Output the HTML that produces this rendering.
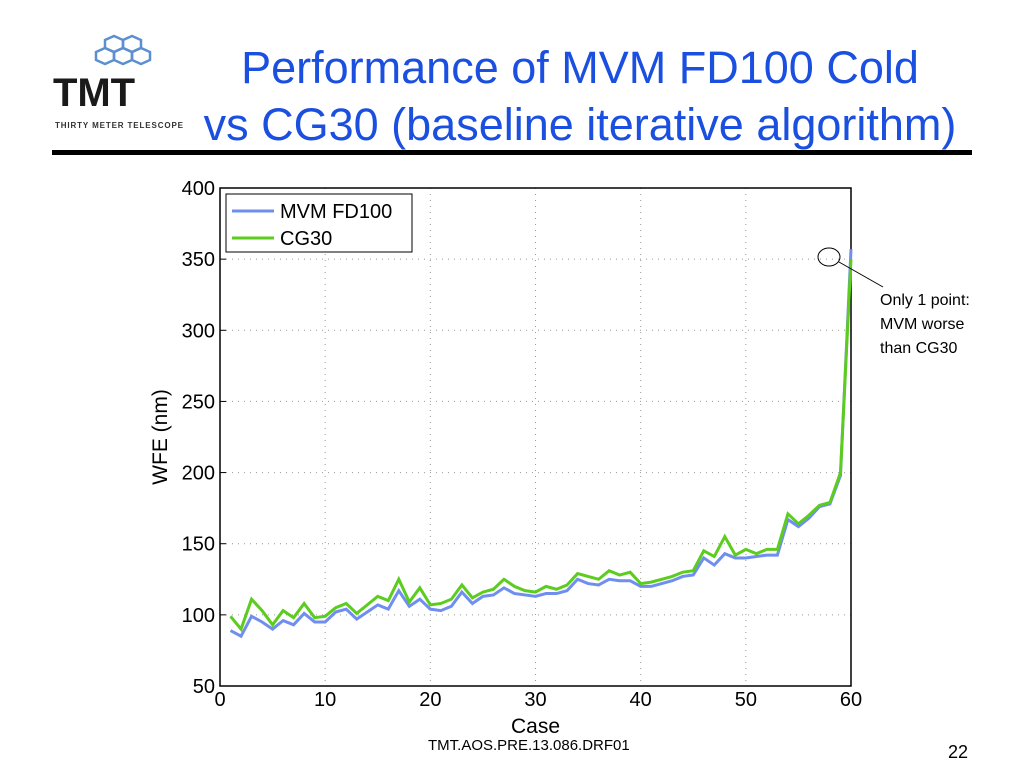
<!DOCTYPE html>
<html><head><meta charset="utf-8"><style>
body{margin:0;width:1024px;height:768px;background:#fff;position:relative;overflow:hidden;font-family:"Liberation Sans",sans-serif}
.t{position:absolute;left:160px;width:840px;text-align:center;color:#1a4fe0;font-size:45px;line-height:52px;white-space:nowrap}
</style></head><body>
<div style="position:absolute;left:25px;top:30px;width:170px;height:110px">
<svg width="170" height="110"><g fill="none" stroke="#5b8fd0" stroke-width="2.5">
<polygon points="80,10 89,6 98,10 98,18 89,22 80,18"/><polygon points="98,10 107,6 116,10 116,18 107,22 98,18"/>
<polygon points="89,22 98,18 107,22 107,30 98,34 89,30"/><polygon points="107,22 116,18 125,22 125,30 116,34 107,30"/>
<polygon points="71,22 80,18 89,22 89,30 80,34 71,30"/></g>
<text x="28" y="76" font-size="40" font-weight="bold" fill="#1a1a1a" font-family="Liberation Sans" textLength="82">TMT</text>
<text x="30" y="98" font-size="8" font-weight="bold" fill="#333" font-family="Liberation Sans" textLength="128">THIRTY METER TELESCOPE</text></svg></div>
<div class="t" style="top:42px">Performance of MVM FD100 Cold</div>
<div class="t" style="top:99px">vs CG30 (baseline iterative algorithm)</div>
<div style="position:absolute;left:52px;top:150px;width:920px;height:5px;background:#000"></div>
<svg id="c" width="1024" height="768" style="position:absolute;left:0;top:0"></svg>
<div style="position:absolute;left:880px;top:289px;font-size:16px;line-height:24px">Only 1 point:<br>MVM worse<br>than CG30</div>
<div style="position:absolute;left:428px;top:737px;font-size:15px">TMT.AOS.PRE.13.086.DRF01</div>
<div style="position:absolute;left:948px;top:742px;font-size:18px">22</div>
<script>
const xTicks=[0,10,20,30,40,50,60];
const yTicks=[50,100,150,200,250,300,350,400];
const mvm=[89,85,99,95,90,96,93,101,95,95,102,104,97,102,107,104,117,106,111,104,103,106,116,108,113,114,119,115,114,113,115,115,117,125,122,121,125,124,124,120,120,122,124,127,128,140,135,143,140,140,141,142,142,167,162,168,176,178,198,357];
const cg=[99,90,111,103,93,103,98,108,98,99,105,108,101,107,113,110,125,109,119,107,108,111,121,112,116,118,125,120,117,116,120,118,121,129,127,125,131,128,130,122,123,125,127,130,131,145,141,155,142,146,143,146,146,171,164,170,177,179,200,350];
const L=220,R=851,T=188,B=686;
const X=v=>L+(v-0)/60*(R-L), Y=v=>B-(v-50)/350*(B-T);
const s=document.getElementById('c'),NS='http://www.w3.org/2000/svg';
function mk(t,a,p){const e=document.createElementNS(NS,t);for(const k in a)e.setAttribute(k,a[k]);(p||s).appendChild(e);return e;}
let e;
xTicks.forEach(v=>{e=mk('line',{x1:X(v),x2:X(v),y1:T,y2:B,stroke:'#999','stroke-dasharray':'1 5'});

e=mk('text',{x:X(v),y:B+20,'text-anchor':'middle','font-size':20});e.textContent=v;
});
yTicks.forEach(v=>{e=mk('line',{x1:L,x2:R,y1:Y(v),y2:Y(v),stroke:'#999','stroke-dasharray':'1 5'});

e=mk('line',{x1:L,x2:L+6,y1:Y(v),y2:Y(v),stroke:'#000'});
e=mk('text',{x:L-5,y:Y(v)+7,'text-anchor':'end','font-size':20});e.textContent=v;
});
e=mk('rect',{x:L,y:T,width:R-L,height:B-T,fill:'none',stroke:'#000','stroke-width':1.5});

e=mk('path',{d:mvm.map((v,i)=>(i?'L':'M')+X(i+1)+','+Y(v)).join(''),fill:'none',stroke:'#6f8ef0','stroke-width':3});

e=mk('path',{d:cg.map((v,i)=>(i?'L':'M')+X(i+1)+','+Y(v)).join(''),fill:'none',stroke:'#5ccc1e','stroke-width':3});

e=mk('rect',{x:226,y:194,width:186,height:58,fill:'#fff',stroke:'#000'});

[['MVM FD100','#6f8ef0',211],['CG30','#5ccc1e',238]].forEach(([n,c,y])=>{
e=mk('line',{x1:232,x2:274,y1:y,y2:y,stroke:c,'stroke-width':3});
e=mk('text',{x:280,y:y+7,'font-size':20});e.textContent=n;});
e=mk('text',{x:(L+R)/2,y:733,'text-anchor':'middle','font-size':21});e.textContent='Case';

e=mk('text',{x:167,y:437,'text-anchor':'middle','font-size':21,transform:'rotate(-90 167 437)'});e.textContent='WFE (nm)';

e=mk('ellipse',{cx:829,cy:257,rx:11,ry:9,fill:'none',stroke:'#000'});
e=mk('line',{x1:839,y1:262,x2:883,y2:287,stroke:'#000'});
</script>
</body></html>
